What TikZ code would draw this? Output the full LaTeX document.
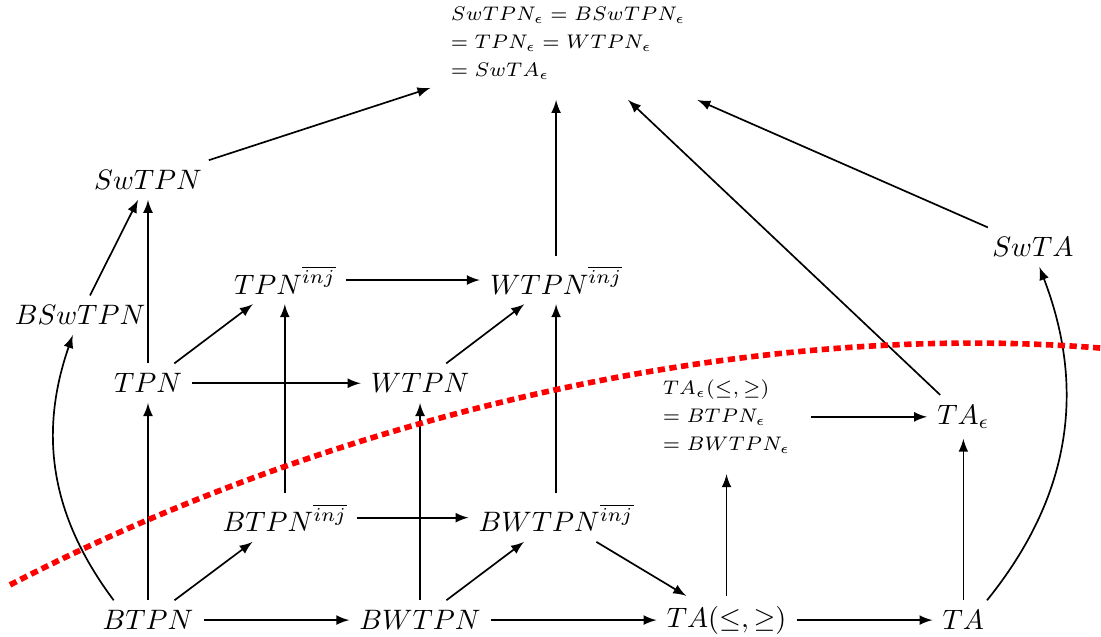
\documentclass[tikz,border=0pt]{standalone}
\usepackage{amsmath}
\begin{document}
\begin{tikzpicture}[semithick, blk/.style={align=left, font=\scriptsize, inner sep=7pt}]
\useasboundingbox (0,0) rectangle (13.76,7.95);
  % top: the epsilon classes
  \node[blk] (eps) at (7.10,7.41) {$SwTPN_\epsilon = BSwTPN_\epsilon$\\[2pt]$= TPN_\epsilon = WTPN_\epsilon$\\[2pt]$= SwTA_\epsilon$};
  \node (swtpn) at (1.85,5.70) {$SwTPN$};
  \node (bswtpn) at (1.00,4.01) {$BSwTPN$};
  \node (tpni) at (3.56,4.45) {$TPN^{\overline{inj}}$};
  \node (wtpni) at (6.95,4.45) {$WTPN^{\overline{inj}}$};
  \node (swta) at (12.91,4.86) {$SwTA$};
  \node (tpn) at (1.85,3.16) {$TPN$};
  \node (wtpn) at (5.25,3.16) {$WTPN$};
  \node[blk] (taeps) at (9.08,2.74) {$TA_\epsilon(\leq,\geq)$\\[2pt]$= BTPN_\epsilon$\\[2pt]$= BWTPN_\epsilon$};
  \node (tae) at (12.04,2.74) {$TA_\epsilon$};
  \node (btpni) at (3.56,1.48) {$BTPN^{\overline{inj}}$};
  \node (bwtpni) at (6.95,1.48) {$BWTPN^{\overline{inj}}$};
  % bottom row
  \node (btpn) at (1.85,0.20) {$BTPN$};
  \node (bwtpn) at (5.25,0.20) {$BWTPN$};
  \node (tale) at (9.08,0.20) {$TA(\leq,\geq)$};
  \node (ta) at (12.04,0.20) {$TA$};
  \foreach \a/\b in {btpn/tpn, btpn/btpni, btpn/bwtpn, tpn/swtpn, tpn/tpni, tpn/wtpn,
      bswtpn/swtpn, btpni/tpni, btpni/bwtpni, tpni/wtpni, bwtpn/wtpn, bwtpn/bwtpni,
      bwtpn/tale, wtpn/wtpni, bwtpni/wtpni, bwtpni/tale, swtpn/eps,
      tale/taeps, tale/ta, taeps/tae, ta/tae, tae/eps, swta/eps}
    \draw[-latex] (\a) -- (\b);
  \draw[-latex] (wtpni) -- (wtpni |- eps.south);
  \draw[-latex] (btpn.150) to[bend left=28] (bswtpn.-110);
  \draw[-latex] (ta.40) to[bend right=30] (swta.-72);
%  \draw (0,0) grid (14,8);
  \draw[red, line width=2pt, dash pattern=on 2.6pt off 1.6pt] (0.125,0.64) .. controls (4.3,2.8) and (9.375,3.95) .. (13.75,3.6);
\end{tikzpicture}
\end{document}
